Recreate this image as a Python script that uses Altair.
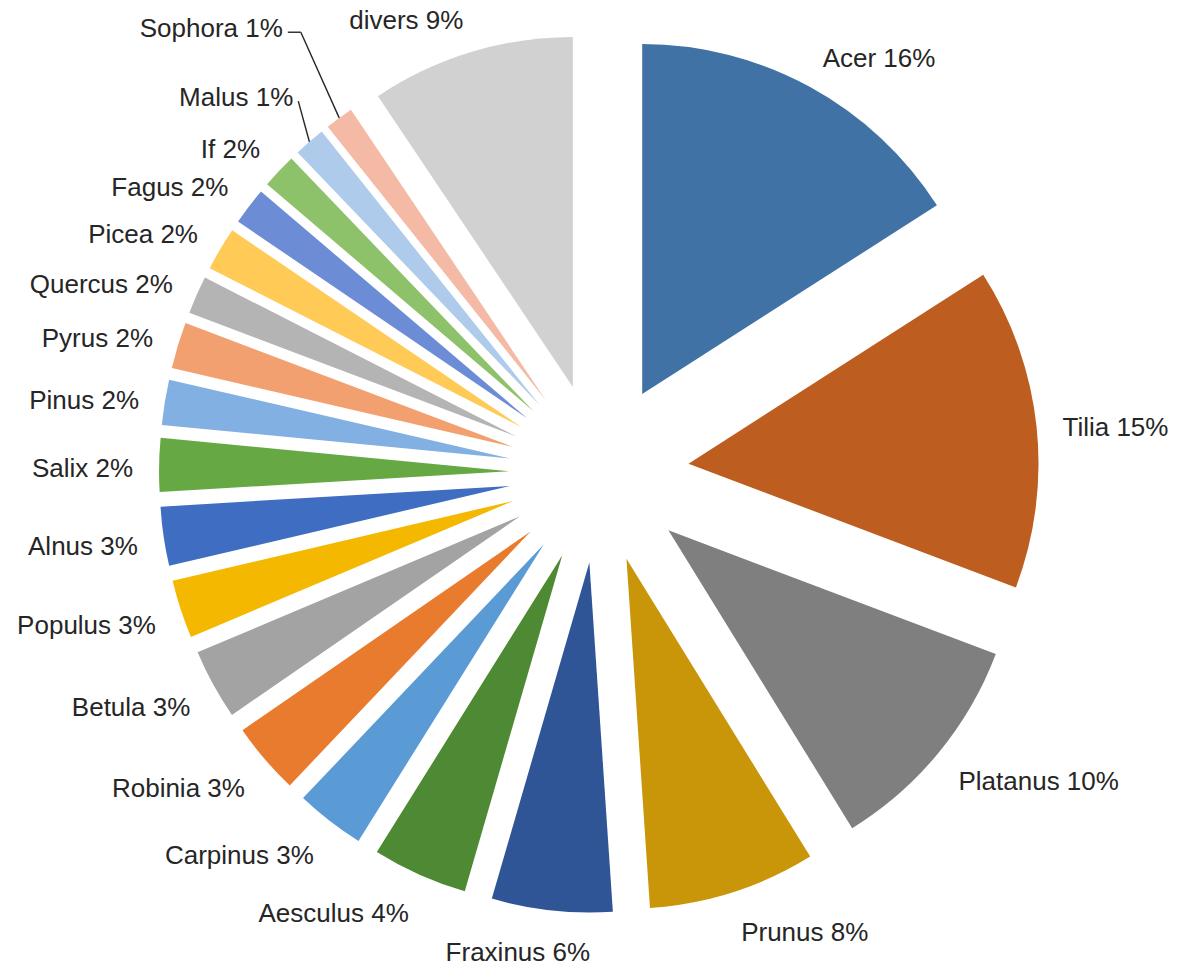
import altair as alt
import pandas as pd

# ---- data (clockwise from 12 o'clock) ----
species = ["Acer", "Tilia", "Platanus", "Prunus", "Fraxinus", "Aesculus", "Carpinus",
           "Robinia", "Betula", "Populus", "Alnus", "Salix", "Pinus", "Pyrus", "Quercus",
           "Picea", "Fagus", "If", "Malus", "Sophora", "divers"]
values = [15.92, 14.81, 10.44, 7.72, 5.56, 4.39, 3.19, 3.31, 3.25, 2.69, 2.72, 2.47,
          2.08, 2.14, 1.75, 2.00, 1.72, 1.61, 1.45, 1.31, 9.39]
labels = ["Acer 16%", "Tilia 15%", "Platanus 10%", "Prunus 8%", "Fraxinus 6%",
          "Aesculus 4%", "Carpinus 3%", "Robinia 3%", "Betula 3%", "Populus 3%",
          "Alnus 3%", "Salix 2%", "Pinus 2%", "Pyrus 2%", "Quercus 2%", "Picea 2%",
          "Fagus 2%", "If 2%", "Malus 1%", "Sophora 1%", "divers 9%"]
colors = ["#4172A5", "#BE5D20", "#7F7F7F", "#C9960A", "#2F5597", "#4E8A33", "#5B9BD5",
          "#E97B2F", "#A3A3A3", "#F4B800", "#3F6DC2", "#66A843", "#82B0E3", "#F2A06F",
          "#B4B4B4", "#FFCA55", "#6C8DD6", "#8DC26A", "#AECBEC", "#F4BAA6", "#D1D1D1"]

# ---- layout / style ----
W, H = 1183, 968
CX, CY = 599, 473          # pie centre
R = 350                    # outer radius
EXPLODE = 90               # explosion distance of every slice
LR = EXPLODE + R + 26      # label anchor distance
FONT = "Liberation Sans"
FSIZE = 26
TXT = "#262626"
# manually moved labels (dx, dy, elbow length of leader line)
label_nudge = {"Malus": (1, -20, 0), "Sophora": (-41, -63, 13)}

df = pd.DataFrame({"idx": list(range(len(species))), "species": species,
                   "value": values, "label": labels})
df["ndx"] = [label_nudge.get(s, (0, 0, 0))[0] for s in species]
df["ndy"] = [label_nudge.get(s, (0, 0, 0))[1] for s in species]
df["elbow"] = [label_nudge.get(s, (0, 0, 0))[2] for s in species]
df["nudged"] = [1 if s in label_nudge else 0 for s in species]

base = (
    alt.Chart(df)
    .transform_window(cum="sum(value)", sort=[alt.SortField("idx", order="ascending")],
                      frame=[None, 0])
    .transform_joinaggregate(total="sum(value)")
    .transform_calculate(mid="2*PI*(datum.cum - datum.value/2)/datum.total")
    .transform_calculate(s="sin(datum.mid)")
    .transform_calculate(c="cos(datum.mid)")
    .transform_calculate(px=f"{CX} + {EXPLODE}*datum.s")
    .transform_calculate(py=f"{CY} - {EXPLODE}*datum.c")
    .transform_calculate(ox=f"{CX} + {EXPLODE + R}*datum.s")
    .transform_calculate(oy=f"{CY} - {EXPLODE + R}*datum.c")
    .transform_calculate(side="datum.s > 0.2 ? 'left' : (datum.s < -0.2 ? 'right' : 'center')")
    .transform_calculate(
        lx=f"{CX} + {LR}*datum.s + (abs(datum.s) <= 0.2 ? 290*datum.s : 0) + datum.ndx")
    .transform_calculate(ly=f"{CY} - {LR}*datum.c - 12*datum.c + 5 + datum.ndy")
    .transform_calculate(sx="datum.lx + 5")
    .transform_calculate(sy="datum.ly + 3")
    .transform_calculate(ex="datum.sx + datum.elbow")
)

arcs = base.mark_arc(outerRadius=R).encode(
    theta=alt.Theta("value:Q", stack=True),
    order=alt.Order("idx:Q", sort="ascending"),
    color=alt.Color("species:N", scale=alt.Scale(domain=species, range=colors), legend=None),
    x=alt.X("px:N", scale=None),
    y=alt.Y("py:N", scale=None),
)


def text_layer(side):
    return base.transform_filter(f"datum.side == '{side}'").mark_text(
        align=side, baseline="middle", font=FONT, fontSize=FSIZE, color=TXT
    ).encode(
        x=alt.X("lx:Q", scale=None),
        y=alt.Y("ly:Q", scale=None),
        text="label:N",
    )


leader_a = base.transform_filter("datum.nudged == 1 && datum.elbow > 0").mark_rule(
    color=TXT, strokeWidth=1.4
).encode(
    x=alt.X("sx:Q", scale=None), y=alt.Y("sy:Q", scale=None),
    x2=alt.X2("ex:Q"), y2=alt.Y2("sy:Q"),
)
leader_b = base.transform_filter("datum.nudged == 1").mark_rule(
    color=TXT, strokeWidth=1.4
).encode(
    x=alt.X("ex:Q", scale=None), y=alt.Y("sy:Q", scale=None),
    x2=alt.X2("ox:Q"), y2=alt.Y2("oy:Q"),
)

chart = alt.layer(
    arcs, text_layer("left"), text_layer("right"), text_layer("center"), leader_a, leader_b
).properties(
    width=W, height=H, autosize=alt.AutoSizeParams(type="none"), padding=0,
    background="white",
).configure_view(stroke=None)

chart.save("out.html", embed_options={"renderer": "svg", "actions": False})
